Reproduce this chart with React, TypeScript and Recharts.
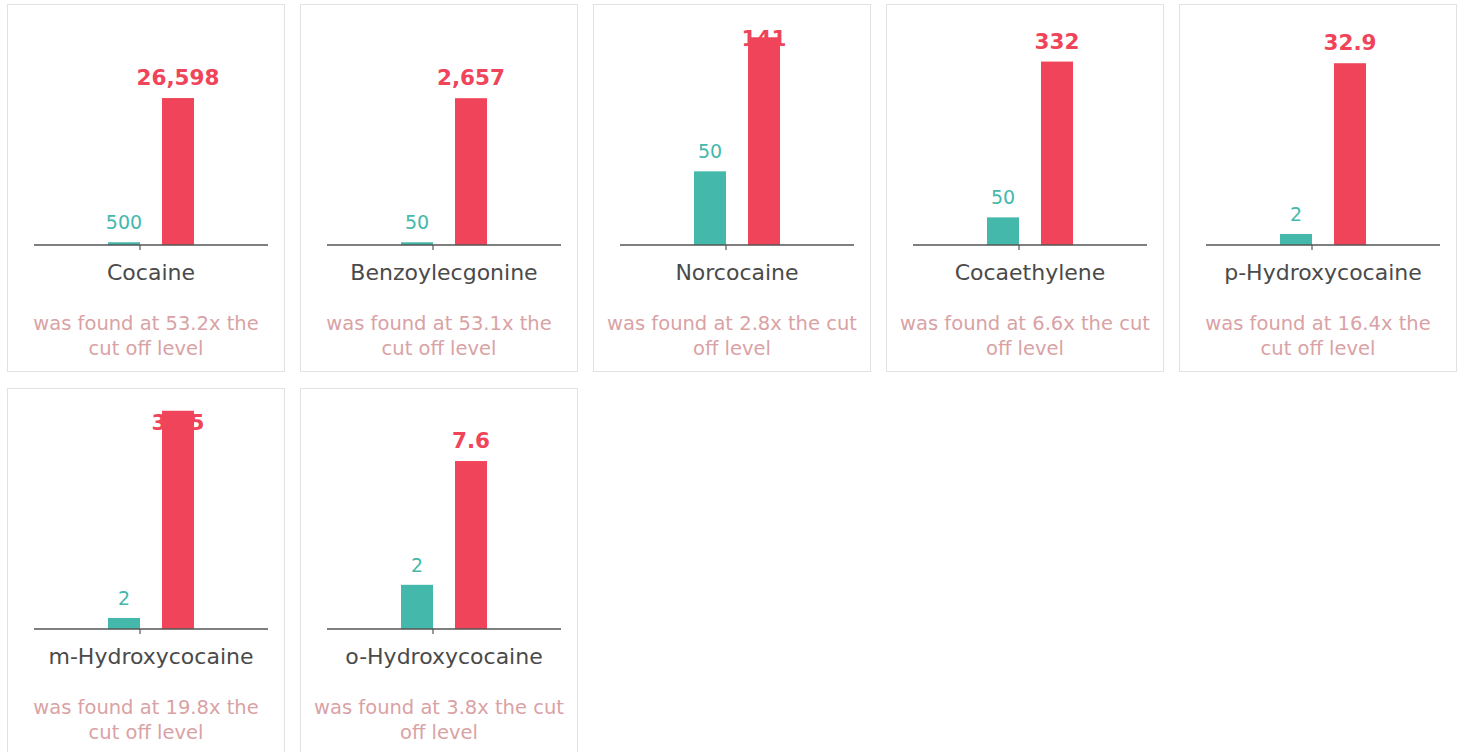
import { Bar, BarChart, XAxis, YAxis } from "recharts";

// one card per analyte
const analytes = [
  "Cocaine",
  "Benzoylecgonine",
  "Norcocaine",
  "Cocaethylene",
  "p-Hydroxycocaine",
  "m-Hydroxycocaine",
  "o-Hydroxycocaine",
];
const cutoffLevels = [500, 50, 50, 50, 2, 2, 2];
const foundLevels = [26598, 2657, 141, 332, 32.9, 39.5, 7.6];
const ratios = ["53.2", "53.1", "2.8", "6.6", "16.4", "19.8", "3.8"];
// nice upper bound of each y axis
const axisMax = [40000, 4000, 150, 400, 40, 40, 10];

const TEAL = "#45b8ac";
const RED = "#ef4459";
const FONT = "'DejaVu Sans', Verdana, sans-serif";

const CHART_W = 276;
const CHART_H = 290;
const MARGIN = { top: 19, right: 16, left: 26, bottom: 0 };

const fmt = (v: number) => v.toLocaleString("en-US");

// bar shape draws its value label first so the bar paints over it
function makeShape(key: string, color: string, bold: boolean, gap: number) {
  return (props: any) => {
    const { x, y, width, height, payload } = props;
    const value = payload[key];
    const labelY = Math.max(y - gap, MARGIN.top + 22);
    return (
      <g>
        <text
          x={x + width / 2}
          y={labelY}
          textAnchor="middle"
          fill={color}
          fontFamily={FONT}
          fontSize={bold ? 21.5 : 19}
          fontWeight={bold ? "bold" : "normal"}
        >
          {fmt(value)}
        </text>
        <rect x={x} y={y} width={width} height={Math.max(height, 0)} fill={color} />
      </g>
    );
  };
}

const CategoryTick = (props: any) => {
  const { x, y, payload } = props;
  return (
    <g>
      <line x1={x - 11} x2={x - 11} y1={y} y2={y + 5} stroke="#555" strokeWidth={1.2} />
      <text x={x} y={y + 35} textAnchor="middle" fill="#4a4a4a" fontFamily={FONT} fontSize={22}>
        {payload.value}
      </text>
    </g>
  );
};

function Card({ i }: { i: number }) {
  const data = [{ name: analytes[i], cutoff: cutoffLevels[i], found: foundLevels[i] }];
  return (
    <div
      style={{
        width: CHART_W,
        height: 366,
        border: "1px solid #e2e2e2",
        background: "#fff",
      }}
    >
      <BarChart width={CHART_W} height={CHART_H} data={data} margin={MARGIN} barSize={32} barGap={22}>
        <XAxis
          dataKey="name"
          axisLine={{ stroke: "#555", strokeWidth: 1.4 }}
          tickLine={false}
          tickSize={0}
          tickMargin={0}
          height={CHART_H - MARGIN.top - 221}
          tick={<CategoryTick />}
          interval={0}
        />
        <YAxis hide domain={[0, axisMax[i]]} />
        <Bar dataKey="cutoff" fill={TEAL} isAnimationActive={false} shape={makeShape("cutoff", TEAL, false, 13)} />
        <Bar dataKey="found" fill={RED} isAnimationActive={false} shape={makeShape("found", RED, true, 13)} />
      </BarChart>
      <div
        style={{
          marginTop: 16,
          padding: "0 10px",
          textAlign: "center",
          color: "#d9a2a5",
          fontFamily: FONT,
          fontSize: 19.5,
          lineHeight: "25px",
        }}
      >
        was found at {ratios[i]}x the cut off level
      </div>
    </div>
  );
}

export default function App() {
  return (
    <>
      <style>{`html,body{margin:0;overflow:hidden}`}</style>
      <div
        style={{
          padding: "4px 0 0 7px",
          width: 1456,
          display: "grid",
          gridTemplateColumns: "repeat(5, 278px)",
          columnGap: 15,
          rowGap: 16,
        }}
      >
        {analytes.map((_, i) => (
          <Card key={i} i={i} />
        ))}
      </div>
    </>
  );
}
